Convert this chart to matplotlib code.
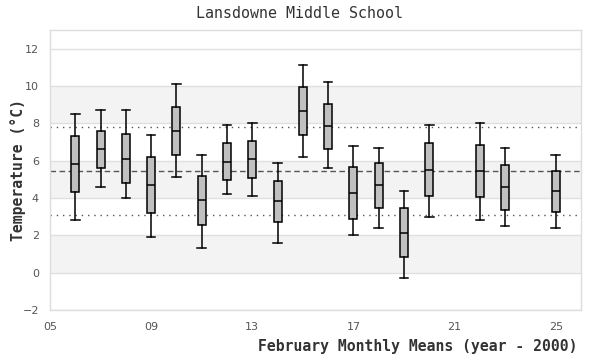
import matplotlib
matplotlib.use("Agg")
import matplotlib.pyplot as plt

years = [6, 7, 8, 9, 10, 11, 12, 13, 14, 15, 16, 17, 18, 19, 20, 22, 23, 25]
whisker_low = [2.81, 4.58, 4.00, 1.89, 5.12, 1.30, 4.20, 4.10, 1.59, 6.19, 5.60, 2.00, 2.38, -0.31, 2.97, 2.81, 2.48, 2.38]
q1 = [4.31, 5.60, 4.80, 3.18, 6.30, 2.54, 4.96, 5.06, 2.70, 7.38, 6.62, 2.86, 3.45, 0.82, 4.10, 4.04, 3.34, 3.24]
median = [5.82, 6.64, 6.10, 4.69, 7.61, 3.88, 5.92, 6.10, 3.83, 8.67, 7.86, 4.26, 4.69, 2.11, 5.49, 5.44, 4.58, 4.38]
q3 = [7.32, 7.59, 7.41, 6.19, 8.88, 5.17, 6.92, 7.05, 4.90, 9.96, 9.04, 5.66, 5.87, 3.45, 6.95, 6.84, 5.76, 5.44]
whisker_high = [8.51, 8.72, 8.72, 7.35, 10.12, 6.30, 7.89, 8.02, 5.87, 11.14, 10.23, 6.78, 6.66, 4.37, 7.91, 8.00, 6.68, 6.30]

overall_mean = 5.45
upper_sd = 7.82
lower_sd = 3.10

xticks = [5, 9, 13, 17, 21, 25]
xtick_labels = ["05", "09", "13", "17", "21", "25"]
yticks = [-2, 0, 2, 4, 6, 8, 10, 12]

fig = plt.figure(figsize=(6, 3.6), dpi=100)
ax = fig.add_axes([50/600, 50/360, 531/600, 280/360])

ax.set_xlim(5, 26)
ax.set_ylim(-2, 13)

# alternating bands
for lo in [0, 4, 8]:
    ax.axhspan(lo, lo + 2, color="#f3f3f3", zorder=0, lw=0)
for y in yticks:
    ax.axhline(y, color="#e0e0e0", lw=1, zorder=1)

ax.axhline(upper_sd, color="#555555", lw=1, ls=(0, (1, 3.5)), zorder=2)
ax.axhline(lower_sd, color="#555555", lw=1, ls=(0, (1, 3.5)), zorder=2)
ax.axhline(overall_mean, color="#555555", lw=1, ls=(0, (4, 2.5)), zorder=2)

stats = []
for i in range(len(years)):
    stats.append(dict(whislo=whisker_low[i], q1=q1[i], med=median[i],
                      q3=q3[i], whishi=whisker_high[i], fliers=[]))

ax.bxp(stats, positions=years, widths=0.32, patch_artist=True,
       showfliers=False, manage_ticks=False,
       boxprops=dict(facecolor="#c0c0c0", edgecolor="black", lw=1.1),
       medianprops=dict(color="black", lw=1.1),
       whiskerprops=dict(color="black", lw=1.1),
       capprops=dict(color="black", lw=1.1),
       capwidths=0.34, zorder=3)

ax.set_xticks(xticks)
ax.set_xticklabels(xtick_labels)
ax.set_yticks(yticks)
ax.tick_params(length=0, labelsize=8, labelcolor="#555555", pad=8)
ax.tick_params(axis="x", pad=9)
for s in ax.spines.values():
    s.set_color("#dddddd")
    s.set_linewidth(1)

mono = "DejaVu Sans Mono"
fig.text(0.5, 1 - 14/360, "Lansdowne Middle School", ha="center", va="center",
         family=mono, fontsize=10.8, color="#333333")
fig.text(578/600, 1 - 347/360, "February Monthly Means (year - 2000)", ha="right",
         va="center", family=mono, fontsize=10.6, color="#333333", weight="semibold")
fig.text(18/600, 1 - 170/360, "Temperature (°C)", ha="center", va="center",
         rotation=90, family=mono, fontsize=10.6, color="#333333", weight="semibold")

fig.savefig("out.png", dpi=100)
